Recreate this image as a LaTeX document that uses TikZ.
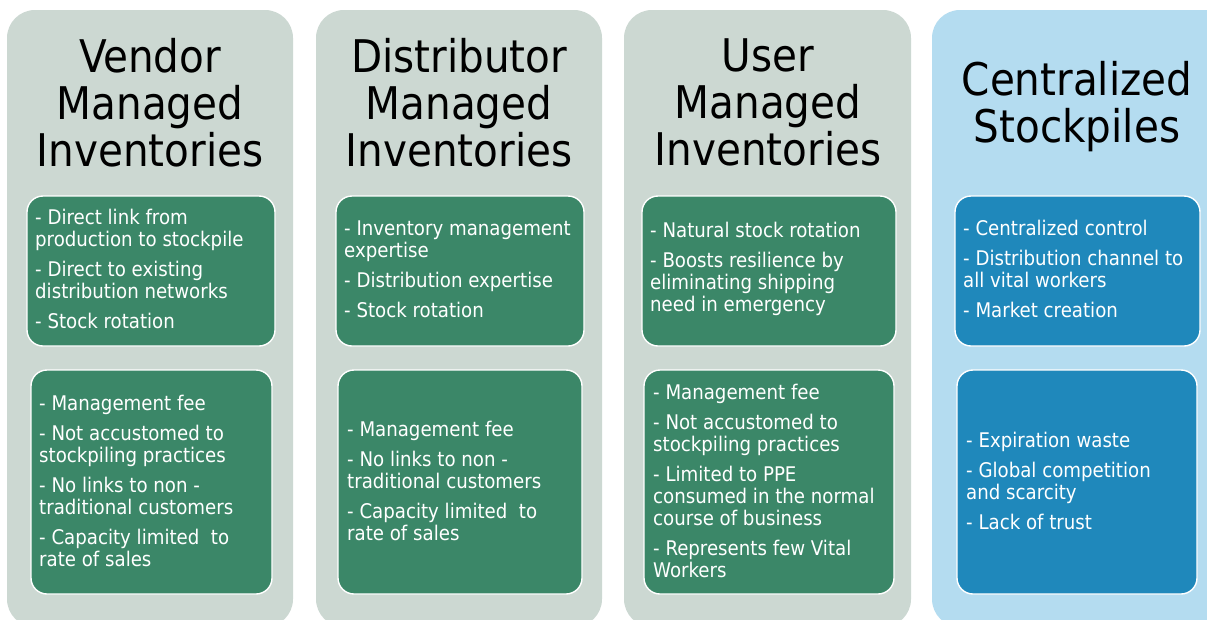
\documentclass[tikz,border=0pt]{standalone}
\usepackage{fontspec}
\setmainfont{DejaVu Sans Condensed}
\definecolor{panelgray}{HTML}{CCD8D2}
\definecolor{panelblue}{HTML}{B4DCF0}
\definecolor{boxgreen}{HTML}{3B8768}
\definecolor{boxblue}{HTML}{1F88BB}
\tikzset{
  panel/.style={rounded corners=28pt},
  itembox/.style={rounded corners=16pt, draw=white, line width=1.4pt},
  title/.style={anchor=north, align=center, inner sep=0pt, text=black,
    font=\fontsize{45}{47}\selectfont},
  items/.style={anchor=west, align=left, inner sep=0pt, text=white,
    font=\fontsize{20.2}{22}\selectfont},
}
\begin{document}
\begin{tikzpicture}[x=1pt, y=-1pt]
\useasboundingbox (0,0) rectangle (1207,619);
\fill[white] (0,0) rectangle (1207,619);

% background panels (their lower edge runs just past the page)
\begin{scope}
\clip (0,0) rectangle (1207,619);
\fill[panel, panelgray] (7,10) rectangle (293,627);
\fill[panel, panelgray] (316,10) rectangle (602,627);
\fill[panel, panelgray] (624,10) rectangle (911,627);
\fill[panel, panelblue] (932,10) rectangle (1240,627);
\end{scope}

% titles
\node[title] (t1) at (150,38) {Vendor\\Managed\\Inventories};
\node[title] (t2) at (459,38) {Distributor\\Managed\\Inventories};
\node[title] (t3) at (768,38) {User\\Managed\\Inventories};
\node[title] (t4) at (1077,61) {Centralized\\Stockpiles};

% item boxes
\draw[itembox, fill=boxgreen] (27,196) rectangle (275,346);
\draw[itembox, fill=boxgreen] (31,370) rectangle (272,594);
\draw[itembox, fill=boxgreen] (336,196) rectangle (584,346);
\draw[itembox, fill=boxgreen] (338,370) rectangle (582,594);
\draw[itembox, fill=boxgreen] (642,196) rectangle (896,346);
\draw[itembox, fill=boxgreen] (644,370) rectangle (894,594);
\draw[itembox, fill=boxblue] (955,196) rectangle (1200,346);
\draw[itembox, fill=boxblue] (957,370) rectangle (1197,594);

% item texts
\node[items] (v1) at (35,269) {- Direct link from\\production to stockpile\\[8pt]- Direct to existing\\distribution networks\\[8pt]- Stock rotation};
\node[items] (v2) at (39,481) {- Management fee\\[8pt]- Not accustomed to\\stockpiling practices\\[8pt]- No links to non -\\traditional customers\\[8pt]- Capacity limited\ \ to\\rate of sales};
\node[items] (d1) at (344,269) {- Inventory management\\expertise\\[8pt]- Distribution expertise\\[8pt]- Stock rotation};
\node[items] (d2) at (347,481) {- Management fee\\[8pt]- No links to non -\\traditional customers\\[8pt]- Capacity limited\ \ to\\rate of sales};
\node[items] (u1) at (650,269) {- Natural stock rotation\\[8pt]- Boosts resilience by\\eliminating shipping\\need in emergency};
\node[items] (u2) at (653,481) {- Management fee\\[8pt]- Not accustomed to\\stockpiling practices\\[8pt]- Limited to PPE\\consumed in the normal\\course of business\\[8pt]- Represents few Vital\\Workers};
\node[items] (c1) at (963,269) {- Centralized control\\[8pt]- Distribution channel to\\all vital workers\\[8pt]- Market creation};
\node[items] (c2) at (966,481) {- Expiration waste\\[8pt]- Global competition\\and scarcity\\[8pt]- Lack of trust};
\end{tikzpicture}
\end{document}
